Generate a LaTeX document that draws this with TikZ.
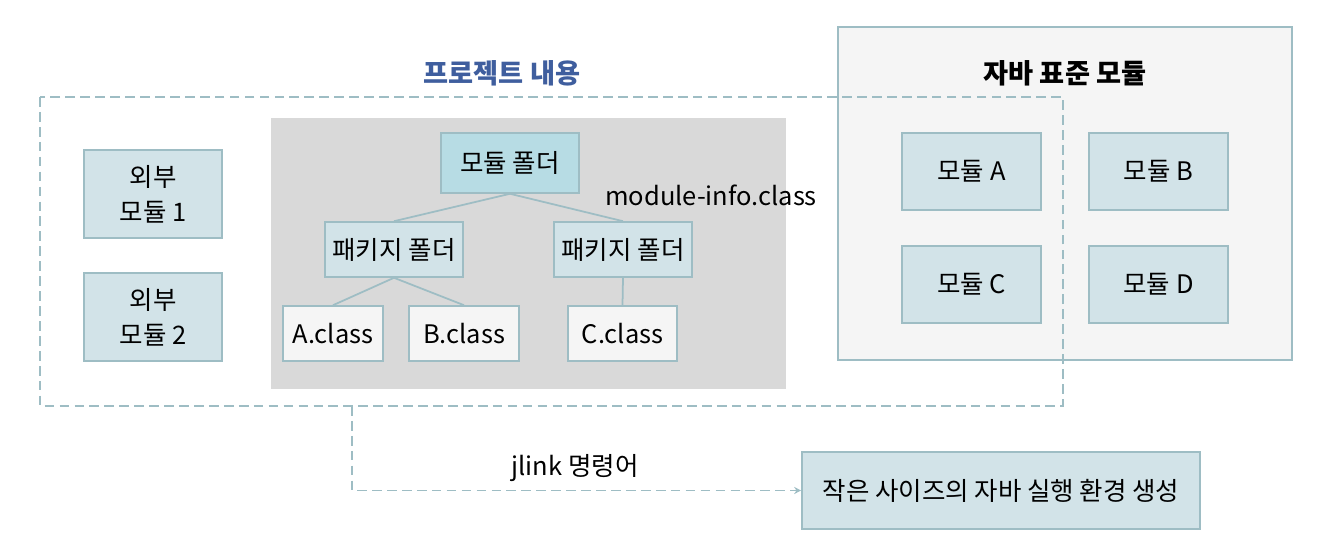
\documentclass[tikz,border=0pt]{standalone}
\usepackage{fontspec}
\setmainfont{Noto Sans CJK KR}
\usetikzlibrary{arrows.meta}
\definecolor{edgegray}{HTML}{9EBDC4}
\definecolor{boxfill}{HTML}{D2E3E8}
\definecolor{folderfill}{HTML}{B7DCE4}
\definecolor{areagray}{HTML}{D9D9D9}
\definecolor{paper}{HTML}{F5F5F5}
\definecolor{titleblue}{HTML}{3F5E9E}
\tikzset{
	modbox/.style={draw=edgegray, line width=0.9pt, fill=boxfill, align=center, inner sep=0pt, font=\fontsize{14.5}{20}\selectfont},
	classbox/.style={draw=edgegray, line width=0.9pt, fill=paper, inner sep=0pt, font=\fontsize{14.5}{20}\selectfont},
	treeline/.style={draw=edgegray, line width=1pt},
	dashline/.style={draw=edgegray, line width=1.1pt, dash pattern=on 5.5pt off 3pt}
}

\begin{document}
\begin{tikzpicture}
			%%%%% START %%%%%
			\useasboundingbox (0, 0) rectangle (26.64, 11.2);
			
			\draw[draw=edgegray, line width=1.1pt, fill=paper] (16.76, 10.66) rectangle (25.84, 4.0);
			\node[font=\bfseries\fontsize{15.5}{18}\selectfont] (stdtitle) at (21.3, 9.74) {자바 표준 모듈};
			
			\node[modbox, minimum width=2.78cm, minimum height=1.54cm] (modA) at (19.43, 7.77) {모듈 A};
			\node[modbox, minimum width=2.78cm, minimum height=1.54cm] (modB) at (23.17, 7.77) {모듈 B};
			\node[modbox, minimum width=2.78cm, minimum height=1.54cm] (modC) at (19.43, 5.51) {모듈 C};
			\node[modbox, minimum width=2.78cm, minimum height=1.54cm] (modD) at (23.17, 5.51) {모듈 D};
			
			\fill[areagray] (5.42, 8.84) rectangle (15.72, 3.42);
			
			\node[modbox, minimum width=2.76cm, minimum height=1.76cm] (ext1) at (3.06, 7.32) {외부\\모듈 1};
			\node[modbox, minimum width=2.76cm, minimum height=1.76cm] (ext2) at (3.06, 4.86) {외부\\모듈 2};
			
			\node[modbox, fill=folderfill, minimum width=2.76cm, minimum height=1.2cm] (modfolder) at (10.2, 7.94) {모듈 폴더};
			\node[modbox, minimum width=2.76cm, minimum height=1.1cm] (pkgleft) at (7.88, 6.21) {패키지 폴더};
			\node[modbox, minimum width=2.76cm, minimum height=1.1cm] (pkgright) at (12.46, 6.21) {패키지 폴더};
			\node[font=\fontsize{14.5}{18}\selectfont] (modinfo) at (14.22, 7.3) {module-info.class};
			
			\node[classbox, minimum width=2.0cm, minimum height=1.1cm] (aclass) at (6.66, 4.53) {A.class};
			\node[classbox, minimum width=2.2cm, minimum height=1.1cm] (bclass) at (9.28, 4.53) {B.class};
			\node[classbox, minimum width=2.18cm, minimum height=1.1cm] (cclass) at (12.45, 4.53) {C.class};
			
			\draw[treeline] (modfolder.south) -- (pkgleft.north);
			\draw[treeline] (modfolder.south) -- (pkgright.north);
			\draw[treeline] (pkgleft.south) -- (aclass.north);
			\draw[treeline] (pkgleft.south) -- (bclass.north);
			\draw[treeline] (pkgright.south) -- (cclass.north);
			
			\node[font=\bfseries\fontsize{15.5}{18}\selectfont, text=titleblue] (projtitle) at (10.04, 9.74) {프로젝트 내용};
			\draw[dashline] (0.8, 9.26) rectangle (21.26, 3.08);
			
			\node[modbox, minimum width=7.96cm, minimum height=1.54cm] (result) at (20.02, 1.39) {작은 사이즈의 자바 실행 환경 생성};
			\coordinate (jstart) at (7.04, 3.08);
			\draw[dashline, -{Stealth[length=4pt, width=4pt]}] (jstart) |- (result.west);
			\node[font=\fontsize{14.5}{18}\selectfont] (jlink) at (11.5, 1.84) {jlink 명령어};
			
			%%%%% END %%%%%
		\end{tikzpicture}
\end{document}
